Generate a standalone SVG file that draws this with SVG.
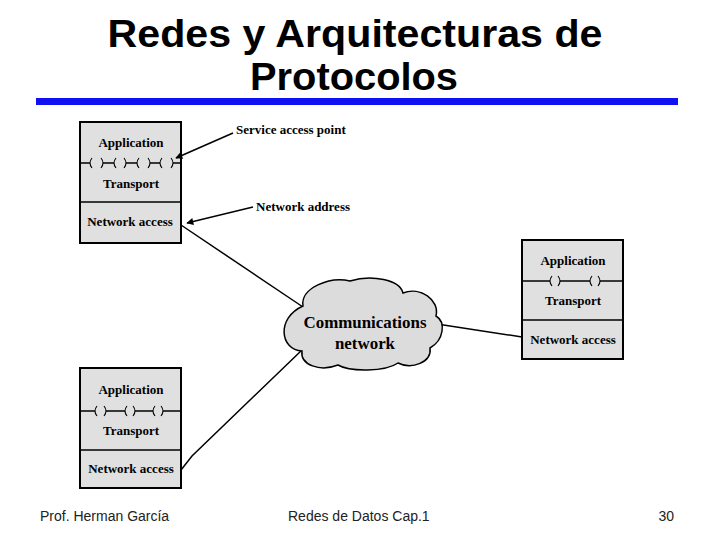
<svg xmlns="http://www.w3.org/2000/svg" width="720" height="540" viewBox="0 0 720 540">
<defs>
<style>
.title{font-family:"Liberation Sans",Arial,sans-serif;font-weight:bold;font-size:38px;fill:#000;text-anchor:middle}
.foot{font-family:"Liberation Sans",Arial,sans-serif;font-size:14px;fill:#222}
.box{fill:#e0e0e0;stroke:#000;stroke-width:2}
.lbl{font-family:"Liberation Serif","Times New Roman",serif;font-weight:bold;font-size:13px;fill:#000;text-anchor:middle}
.call{font-family:"Liberation Serif","Times New Roman",serif;font-weight:bold;font-size:13px;fill:#000}
.cl{font-family:"Liberation Serif","Times New Roman",serif;font-weight:bold;font-size:16.9px;fill:#000;text-anchor:middle}
.ln{fill:none;stroke:#000;stroke-width:1.5}
.pl{fill:none;stroke:#000;stroke-width:1.5}
.pt{fill:none;stroke:#000;stroke-width:1.1}
</style>
<marker id="ah" viewBox="0 0 10 10" refX="9" refY="5" markerWidth="9" markerHeight="7" orient="auto" markerUnits="userSpaceOnUse">
<path d="M0,0 L10,5 L0,10 Z" fill="#000"/>
</marker>
</defs>
<rect width="720" height="540" fill="#fff"/>
<text class="title" x="355" y="47" textLength="495" lengthAdjust="spacingAndGlyphs">Redes y Arquitecturas de</text>
<text class="title" x="354" y="90" textLength="208" lengthAdjust="spacingAndGlyphs">Protocolos</text>
<rect x="36" y="98" width="642" height="7" fill="#1010f0"/>

<g id="connectors">
<path class="ln" d="M181,225 L303,307"/>
<path class="ln" d="M437,324 L522,337"/>
<path class="ln" d="M181,470 L192,456 L302,350"/>
</g>

<g id="host1">
<rect class="box" x="80" y="122" width="101" height="121"/>
<line x1="80" y1="202" x2="181" y2="202" stroke="#000" stroke-width="1.5"/>
<text class="lbl" x="131" y="147">Application</text>
<text class="lbl" x="131" y="188">Transport</text>
<text class="lbl" x="130" y="226">Network access</text>
<path class="pl" d="M80,163 H90 M103,163 H114 M126,163 H137 M150,163 H160 M173,163 H181"/>
<path class="pt" d="M92,158 Q88,163 92,168 M101,158 Q105,163 101,168 M116,158 Q112,163 116,168 M124,158 Q128,163 124,168 M139,158 Q135,163 139,168 M148,158 Q152,163 148,168 M162,158 Q158,163 162,168 M171,158 Q175,163 171,168"/>
</g>

<g id="host2">
<rect class="box" x="522" y="240" width="101" height="119"/>
<line x1="522" y1="320" x2="623" y2="320" stroke="#000" stroke-width="1.5"/>
<text class="lbl" x="573" y="265">Application</text>
<text class="lbl" x="573" y="305">Transport</text>
<text class="lbl" x="573" y="344">Network access</text>
<path class="pl" d="M522,281 H550 M560,281 H590 M600,281 H623"/>
<path class="pt" d="M552,276 Q548,281 552,286 M558,276 Q562,281 558,286 M592,276 Q588,281 592,286 M598,276 Q602,281 598,286"/>
</g>

<g id="host3">
<rect class="box" x="80" y="368" width="101" height="120"/>
<line x1="80" y1="450" x2="181" y2="450" stroke="#000" stroke-width="1.5"/>
<text class="lbl" x="131" y="394">Application</text>
<text class="lbl" x="131" y="435">Transport</text>
<text class="lbl" x="131" y="473">Network access</text>
<path class="pl" d="M80,411 H95 M106,411 H125 M135,411 H153 M163,411 H181"/>
<path class="pt" d="M97,406 Q93,411 97,416 M104,406 Q108,411 104,416 M127,406 Q123,411 127,416 M133,406 Q137,411 133,416 M155,406 Q151,411 155,416 M161,406 Q165,411 161,416"/>
</g>

<g id="network">
<path d="M303,306 C300,288 330,276 350,281 C372,274 400,280 403,293 C420,286 440,300 436,316 C446,322 444,340 430,348 C432,362 412,370 398,363 C385,372 350,372 338,365 C320,372 300,365 302,351 C280,350 276,318 303,306 Z" fill="#dcdcdc" stroke="#000" stroke-width="1.5"/>
<text class="cl" x="365" y="328">Communications</text>
<text class="cl" x="365" y="349">network</text>
</g>

<g id="labels">
<path class="ln" d="M233,133 L176,158" marker-end="url(#ah)"/>
<path class="ln" d="M253,207 L187,223" marker-end="url(#ah)"/>
<text class="call" x="236" y="134">Service access point</text>
<text class="call" x="256" y="211">Network address</text>
</g>

<text class="foot" x="40" y="521">Prof. Herman García</text>
<text class="foot" x="288" y="521">Redes de Datos Cap.1</text>
<text class="foot" x="674" y="521" text-anchor="end">30</text>
</svg>
